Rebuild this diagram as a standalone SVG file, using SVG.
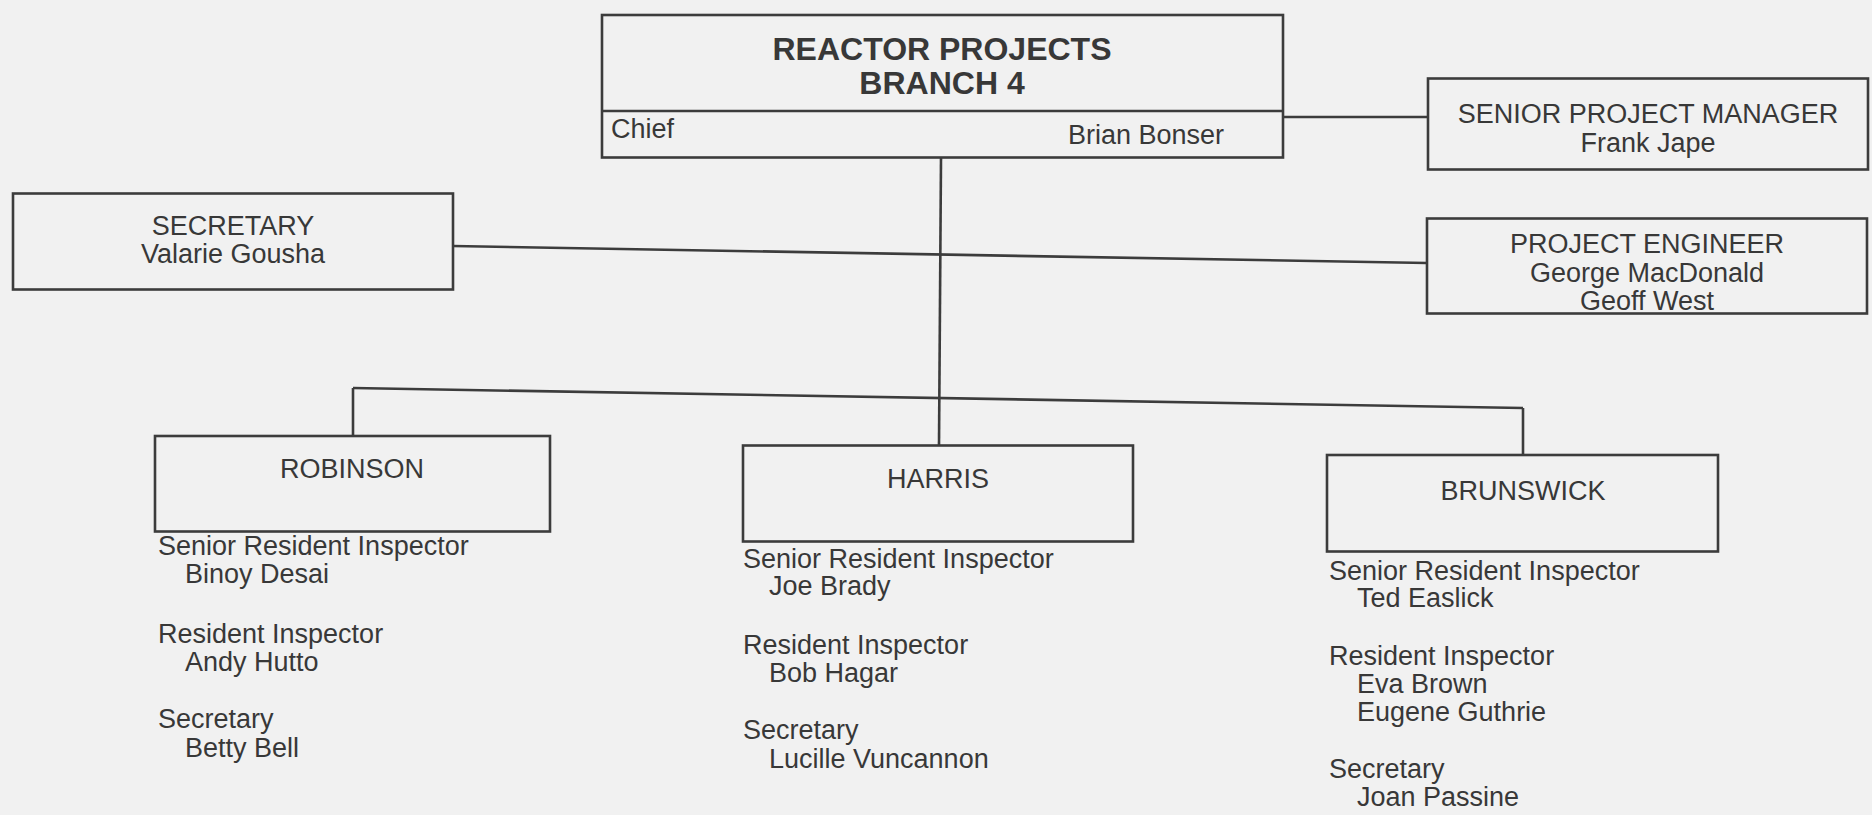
<svg xmlns="http://www.w3.org/2000/svg" width="1872" height="815" viewBox="0 0 1872 815">
<style>
.box{fill:none;stroke:#3c3c3c;stroke-width:2.6}
.ln{fill:none;stroke:#3c3c3c;stroke-width:2.6}
.t{font-family:"Liberation Sans",Arial,sans-serif;font-size:27px;fill:#383838}
.c{text-anchor:middle}
.b{font-weight:bold;font-size:32px}
</style>
<rect width="1872" height="815" fill="#f1f1f1"/>
<g id="connectors">
<line class="ln" x1="1283" y1="117" x2="1428" y2="117"/>
<line class="ln" x1="453" y1="246" x2="1427" y2="263"/>
<line class="ln" x1="941" y1="158" x2="939" y2="446"/>
<line class="ln" x1="353" y1="388" x2="1523" y2="408"/>
<line class="ln" x1="353" y1="388" x2="353" y2="436"/>
<line class="ln" x1="1523" y1="408" x2="1523" y2="455"/>
</g>
<g id="branch">
<rect class="box" x="602" y="15" width="681" height="142.5"/>
<line class="ln" x1="602" y1="111" x2="1283" y2="111"/>
<text class="t b c" x="942" y="60">REACTOR PROJECTS</text>
<text class="t b c" x="942" y="94">BRANCH 4</text>
<text class="t" x="611" y="138">Chief</text>
<text class="t" x="1068" y="144">Brian Bonser</text>
</g>
<g id="spm">
<rect class="box" x="1428" y="78.5" width="440" height="91"/>
<text class="t c" x="1648" y="123">SENIOR PROJECT MANAGER</text>
<text class="t c" x="1648" y="152">Frank Jape</text>
</g>
<g id="secretary">
<rect class="box" x="13" y="193.5" width="440" height="96"/>
<text class="t c" x="233" y="235">SECRETARY</text>
<text class="t c" x="233" y="263">Valarie Gousha</text>
</g>
<g id="pe">
<rect class="box" x="1427" y="218.5" width="440" height="95"/>
<text class="t c" x="1647" y="253">PROJECT ENGINEER</text>
<text class="t c" x="1647" y="282">George MacDonald</text>
<text class="t c" x="1647" y="310">Geoff West</text>
</g>
<g id="robinson">
<rect class="box" x="155" y="436" width="395" height="95.5"/>
<text class="t c" x="352" y="478">ROBINSON</text>
<text class="t" x="158" y="555">Senior Resident Inspector</text>
<text class="t" x="185" y="583">Binoy Desai</text>
<text class="t" x="158" y="643">Resident Inspector</text>
<text class="t" x="185" y="671">Andy Hutto</text>
<text class="t" x="158" y="728">Secretary</text>
<text class="t" x="185" y="757">Betty Bell</text>
</g>
<g id="harris">
<rect class="box" x="743" y="445.5" width="390" height="96"/>
<text class="t c" x="938" y="488">HARRIS</text>
<text class="t" x="743" y="568">Senior Resident Inspector</text>
<text class="t" x="769" y="595">Joe Brady</text>
<text class="t" x="743" y="654">Resident Inspector</text>
<text class="t" x="769" y="682">Bob Hagar</text>
<text class="t" x="743" y="739">Secretary</text>
<text class="t" x="769" y="768">Lucille Vuncannon</text>
</g>
<g id="brunswick">
<rect class="box" x="1327" y="455" width="391" height="96.5"/>
<text class="t c" x="1523" y="500">BRUNSWICK</text>
<text class="t" x="1329" y="580">Senior Resident Inspector</text>
<text class="t" x="1357" y="607">Ted Easlick</text>
<text class="t" x="1329" y="665">Resident Inspector</text>
<text class="t" x="1357" y="693">Eva Brown</text>
<text class="t" x="1357" y="721">Eugene Guthrie</text>
<text class="t" x="1329" y="778">Secretary</text>
<text class="t" x="1357" y="806">Joan Passine</text>
</g>
</svg>
